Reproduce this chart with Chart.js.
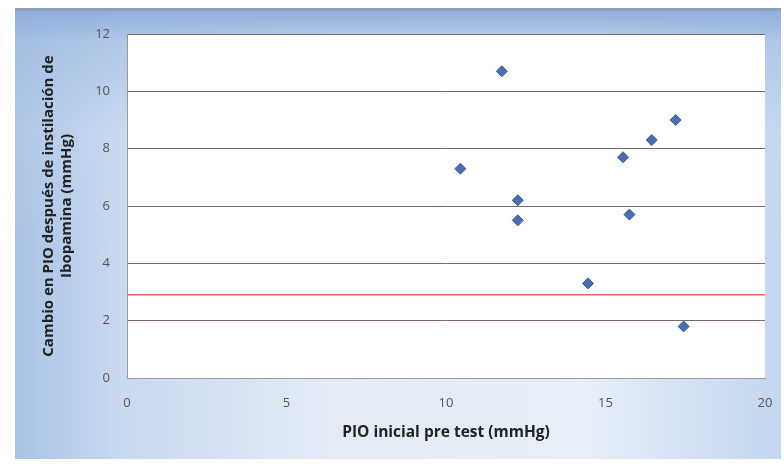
<!DOCTYPE html>
<html>
<head>
<meta charset="utf-8">
<script src="https://cdn.jsdelivr.net/npm/chart.js@4/dist/chart.umd.min.js"></script>
<style>
  html, body { margin: 0; padding: 0; background: #fff; }
  #wrap { position: relative; width: 784px; height: 464px; }
  #frame {
    position: absolute; left: 15px; top: 8px; width: 766px; height: 448px;
    border-top: 3px solid #8da0b8;
    background:
      linear-gradient(180deg, rgba(140,172,218,0.95) 0px, rgba(160,188,226,0.6) 30px, rgba(200,216,238,0.2) 120px, rgba(220,232,245,0) 250px),
      linear-gradient(90deg, #a9c2e4 0%, #c9d9ef 14%, #e3ebf6 40%, #e6eef8 75%, #c4d6ee 100%);
  }
  canvas { position: absolute; left: 0; top: 0; }
</style>
</head>
<body>
<div id="wrap">
  <div id="frame"></div>
  <canvas id="chart" width="784" height="464"></canvas>
</div>
<script>
// valores
const pioInicial = [11.75, 10.45, 12.25, 12.25, 15.55, 16.45, 17.2, 15.75, 14.45, 17.45];
const cambioPio = [10.7, 7.3, 6.2, 5.5, 7.7, 8.3, 9.0, 5.7, 3.3, 1.8];
const lineaX = [0, 20]; // línea roja de referencia
const lineaY = [2.9, 2.9];
const xTicks = [0, 5, 10, 15, 20];
const yTicks = [0, 2, 4, 6, 8, 10, 12];

const puntos = pioInicial.map((x, i) => ({ x: x, y: cambioPio[i] }));
const linea = lineaX.map((x, i) => ({ x: x, y: lineaY[i] }));

// fondo blanco del área del gráfico
const fondoArea = {
  id: 'fondoArea',
  beforeDraw(chart) {
    const a = chart.chartArea;
    const ctx = chart.ctx;
    ctx.save();
    ctx.fillStyle = '#ffffff';
    ctx.fillRect(a.left, a.top, a.right - a.left, a.bottom - a.top);
    ctx.restore();
  }
};

new Chart(document.getElementById('chart'), {
  type: 'scatter',
  data: {
    datasets: [
      {
        type: 'line',
        data: linea,
        borderColor: '#e0675e',
        borderWidth: 1.5,
        pointRadius: 0,
        order: 2
      },
      {
        data: puntos,
        pointStyle: 'rectRot',
        pointRadius: 5.5,
        backgroundColor: '#4a6cb0',
        borderColor: '#3d5c9c',
        borderWidth: 1,
        order: 1
      }
    ]
  },
  options: {
    responsive: false,
    animation: false,
    layout: { padding: { left: 40, top: 34, right: 19, bottom: 22 } },
    plugins: { legend: { display: false }, tooltip: { enabled: false } },
    scales: {
      x: {
        type: 'linear',
        min: 0, max: 20,
        afterBuildTicks: s => { s.ticks = xTicks.map(v => ({ value: v })); },
        afterFit: s => { s.height = 64; s.paddingRight = 0; s.paddingLeft = 0; },
        grid: { display: false, drawTicks: false },
        border: { display: true, color: '#9a9a9a', width: 1 },
        ticks: { padding: 17, color: '#555', font: { family: 'Open Sans', size: 13 } },
        title: {
          display: true,
          text: 'PIO inicial pre test (mmHg)',
          color: '#222',
          font: { family: 'Open Sans', size: 15.5, weight: 'bold' },
          padding: { top: 6, bottom: 0 }
        }
      },
      y: {
        min: 0, max: 12,
        afterBuildTicks: s => { s.ticks = yTicks.map(v => ({ value: v })); },
        afterFit: s => { s.width = 87; },
        grid: { color: '#7d6a66', lineWidth: 1, drawTicks: false },
        border: { display: true, color: '#9a9a9a', width: 1 },
        ticks: { padding: 17, color: '#555', font: { family: 'Open Sans', size: 13 } },
        title: {
          display: true,
          text: ['Cambio en PIO después de instilación de', 'Ibopamina (mmHg)'],
          color: '#222',
          font: { family: 'Open Sans', size: 15, weight: 'bold' },
          padding: { top: 0, bottom: 0 }
        }
      }
    }
  },
  plugins: [fondoArea]
});
</script>
</body>
</html>
